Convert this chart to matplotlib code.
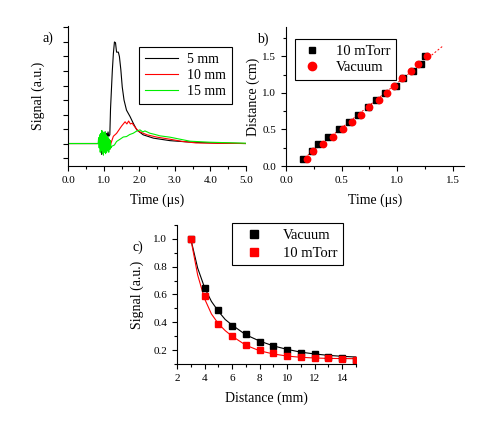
import matplotlib
matplotlib.use("Agg")
import matplotlib.pyplot as plt
from matplotlib.ticker import MultipleLocator, FormatStrFormatter

plt.rcParams['font.family'] = ['Liberation Serif', 'DejaVu Serif']

# a) signal traces (time in us, signal in a.u.)
t5 = [0.0, 0.9, 0.92, 0.94, 0.96, 0.98, 1.0, 1.02, 1.04, 1.06, 1.08, 1.1, 1.12, 1.14,
      1.17, 1.19, 1.24, 1.27, 1.30, 1.33, 1.36, 1.41, 1.44, 1.48, 1.52, 1.57, 1.64,
      1.74, 1.83, 1.93, 2.11, 2.40, 2.86, 3.3, 3.7, 4.2, 5.0]
s5 = [0, 0, -0.5, -0.74, 0.3, -0.5, 0.6, -0.3, 0.8, 0.2, 0.7, 0.4, 0.8, 0.5,
      0.6, 2.4, 5.0, 6.2, 7.0, 6.95, 6.3, 6.3, 6.0, 5.1, 3.9, 3.0, 2.3,
      1.86, 1.4, 0.94, 0.6, 0.37, 0.2, 0.12, 0.07, 0.03, 0.0]
t10 = [0, 0.9, 0.93, 0.96, 0.99, 1.02, 1.05, 1.08, 1.11, 1.14, 1.17, 1.2, 1.27, 1.36,
       1.5, 1.55, 1.6, 1.65, 1.7, 1.75, 1.8, 1.9, 1.99, 2.22, 2.5, 2.86, 3.2, 3.6, 4.2, 5.0]
s10 = [0, 0, 0.3, -0.3, 0.4, -0.4, 0.3, -0.2, 0.2, -0.3, -0.4, 0.0, 0.5, 0.7,
       1.2, 1.35, 1.5, 1.35, 1.55, 1.35, 1.4, 1.06, 0.83, 0.6, 0.44, 0.3, 0.15, 0.04, 0.02, 0.0]
t15 = [0, 0.84, 0.855, 0.87, 0.885, 0.9, 0.915, 0.93, 0.945, 0.96, 0.975, 0.99, 1.005,
       1.02, 1.035, 1.05, 1.065, 1.08, 1.095, 1.11, 1.125, 1.14, 1.155, 1.17, 1.185, 1.2,
       1.22, 1.3, 1.36, 1.46, 1.55, 1.64, 1.73, 1.83, 1.92, 2.02,
       2.1, 2.16, 2.3, 2.45, 2.58, 2.86, 3.43, 3.99, 5.0]
s15 = [0, 0, 0.4, -0.3, 0.6, -0.6, 0.7, -0.5, 0.9, -0.7, 0.8, -0.8, 0.7,
       -0.6, 0.8, -0.7, 0.6, -0.6, 0.5, -0.5, 0.4, -0.6, 0.3, -0.4, 0.2, -0.3,
       -0.2, -0.1, 0.14, 0.3, 0.45, 0.48, 0.62, 0.71, 0.85, 0.94,
       0.8, 0.87, 0.71, 0.62, 0.53, 0.44, 0.16, 0.09, 0.02]

# b) distance vs time
b_t_torr = [0.15, 0.23, 0.29, 0.38, 0.48, 0.57, 0.65, 0.74, 0.81, 0.89, 0.99, 1.05, 1.14, 1.21, 1.25]
b_d_torr = [0.1, 0.2, 0.3, 0.4, 0.5, 0.6, 0.7, 0.8, 0.9, 1.0, 1.1, 1.2, 1.3, 1.4, 1.5]
b_t_vac = [0.19, 0.24, 0.33, 0.42, 0.51, 0.59, 0.67, 0.75, 0.84, 0.91, 0.97, 1.04, 1.12, 1.19, 1.27]
b_d_vac = [0.1, 0.2, 0.3, 0.4, 0.5, 0.6, 0.7, 0.8, 0.9, 1.0, 1.1, 1.2, 1.3, 1.4, 1.5]
b_fit_t = [0.14, 1.41]
b_fit_d = [0.078, 1.64]

# c) signal vs distance
c_dist = [3, 4, 5, 6, 7, 8, 9, 10, 11, 12, 13, 14, 15]
c_vac = [1.0, 0.645, 0.485, 0.375, 0.313, 0.26, 0.226, 0.198, 0.18, 0.169, 0.152, 0.14, 0.128]
c_torr = [1.0, 0.586, 0.387, 0.298, 0.233, 0.198, 0.176, 0.157, 0.147, 0.14, 0.14, 0.133, 0.128]
c_fit_x = [3, 3.5, 4, 4.5, 5, 5.5, 6, 7, 8, 9, 10, 11, 12, 13, 14, 15]
c_fit_vac = [1.0, 0.79, 0.65, 0.55, 0.48, 0.42, 0.38, 0.31, 0.265, 0.23, 0.205, 0.185,
             0.172, 0.162, 0.155, 0.15]
c_fit_torr = [1.0, 0.74, 0.57, 0.46, 0.39, 0.34, 0.30, 0.235, 0.195, 0.172, 0.157, 0.148,
              0.143, 0.14, 0.139, 0.138]


def style_axes(ax):
    ax.spines['top'].set_visible(False)
    ax.spines['right'].set_visible(False)
    ax.tick_params(which='both', direction='out', labelsize=8, width=0.8)
    ax.tick_params(which='major', length=3.5)
    ax.tick_params(which='minor', length=2)


fig = plt.figure(figsize=(4.91, 4.33), dpi=100)

# panel a
ax_a = fig.add_axes([0.1391, 0.6166, 0.3614, 0.3233])
ax_a.plot(t5, s5, color='black', lw=0.8, label='5 mm')
ax_a.plot(t10, s10, color='red', lw=0.8, label='10 mm')
ax_a.plot(t15, s15, color='#00ee00', lw=0.8, label='15 mm')
ax_a.set_xlim(0, 5)
ax_a.set_ylim(-1.55, 8.1)
ax_a.xaxis.set_major_locator(MultipleLocator(1))
ax_a.xaxis.set_minor_locator(MultipleLocator(0.5))
ax_a.xaxis.set_major_formatter(FormatStrFormatter('%.1f'))
ax_a.yaxis.set_major_locator(MultipleLocator(1))
ax_a.set_yticklabels([])
style_axes(ax_a)
ax_a.set_xlabel('Time (μs)', fontsize=10, labelpad=6)
ax_a.set_ylabel('Signal (a.u.)', fontsize=10, labelpad=10)
leg = ax_a.legend(loc='upper right', bbox_to_anchor=(0.921, 0.85), fontsize=10,
                  fancybox=False, edgecolor='black', framealpha=1, borderaxespad=0,
                  handlelength=2.4, borderpad=0.45, labelspacing=0.2, handletextpad=0.6)
leg.get_frame().set_linewidth(0.8)

# panel b
ax_b = fig.add_axes([0.5825, 0.6166, 0.3625, 0.3210])
ax_b.plot(b_fit_t, b_fit_d, color='red', lw=0.7, ls=(0, (2, 2)))
ax_b.plot(b_t_torr, b_d_torr, 's', color='black', ms=3.8, label='10 mTorr')
ax_b.plot(b_t_vac, b_d_vac, 'o', color='red', ms=4.6, label='Vacuum')
ax_b.set_xlim(0, 1.6)
ax_b.set_ylim(0, 1.9)
ax_b.xaxis.set_major_locator(MultipleLocator(0.5))
ax_b.xaxis.set_minor_locator(MultipleLocator(0.25))
ax_b.yaxis.set_major_locator(MultipleLocator(0.5))
ax_b.yaxis.set_minor_locator(MultipleLocator(0.25))
ax_b.xaxis.set_major_formatter(FormatStrFormatter('%.1f'))
ax_b.yaxis.set_major_formatter(FormatStrFormatter('%.1f'))
style_axes(ax_b)
ax_b.set_xlabel('Time (μs)', fontsize=10, labelpad=6)
ax_b.set_ylabel('Distance (cm)', fontsize=10, labelpad=2)
leg = ax_b.legend(loc='upper left', bbox_to_anchor=(0.05, 0.914), fontsize=10.5,
                  fancybox=False, edgecolor='black', framealpha=1, borderaxespad=0,
                  markerscale=1.3, handlelength=1.6, labelspacing=0.2)
leg.get_frame().set_linewidth(0.8)

# panel c
ax_c = fig.add_axes([0.3605, 0.1594, 0.3646, 0.321])
ax_c.plot(c_fit_x, c_fit_vac, color='black', lw=0.8)
ax_c.plot(c_fit_x, c_fit_torr, color='red', lw=0.8)
ax_c.plot(c_dist, c_vac, 's', color='black', ms=4.2, label='Vacuum')
ax_c.plot(c_dist, c_torr, 's', color='red', ms=4.2, label='10 mTorr')
ax_c.set_xlim(2, 15)
ax_c.set_ylim(0.1, 1.1)
ax_c.xaxis.set_major_locator(MultipleLocator(2))
ax_c.xaxis.set_minor_locator(MultipleLocator(1))
ax_c.yaxis.set_major_locator(MultipleLocator(0.2))
ax_c.yaxis.set_minor_locator(MultipleLocator(0.1))
ax_c.yaxis.set_major_formatter(FormatStrFormatter('%.1f'))
style_axes(ax_c)
ax_c.set_xlabel('Distance (mm)', fontsize=10, labelpad=6)
ax_c.set_ylabel('Signal (a.u.)', fontsize=10, labelpad=7)
leg = ax_c.legend(loc='upper right', bbox_to_anchor=(0.927, 1.014), fontsize=10.5,
                  fancybox=False, edgecolor='black', framealpha=1, borderaxespad=0,
                  markerscale=1.3, handlelength=2.3, labelspacing=0.3)
leg.get_frame().set_linewidth(0.8)

fig.text(48 / 491, 1 - 38 / 433, 'a)', fontsize=10, ha='center', va='center')
fig.text(263 / 491, 1 - 39 / 433, 'b)', fontsize=10, ha='center', va='center')
fig.text(138 / 491, 1 - 247 / 433, 'c)', fontsize=10, ha='center', va='center')

fig.savefig('out.png', dpi=100)
